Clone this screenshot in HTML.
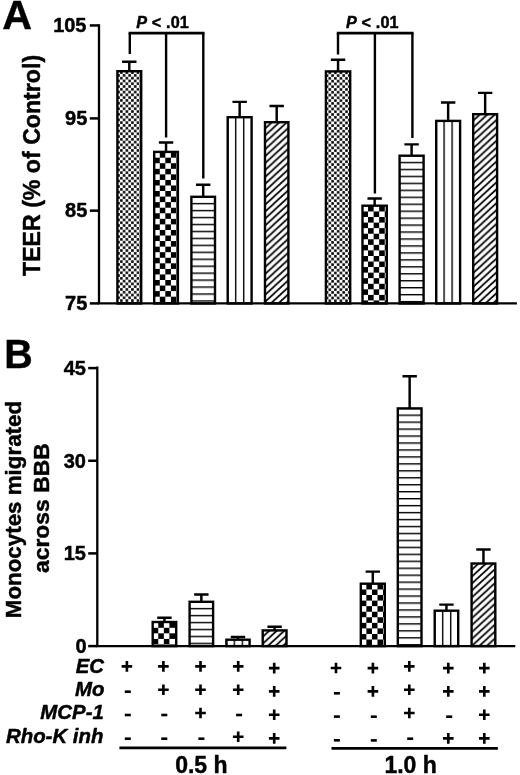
<!DOCTYPE html>
<html><head><meta charset="utf-8"><title>Figure</title>
<style>html,body{margin:0;padding:0;background:#fff;}body{width:520px;height:775px;overflow:hidden;position:relative;}svg{display:block;position:absolute;left:0;top:0;filter:grayscale(1);}text{font-family:"Liberation Sans",sans-serif;font-weight:bold;fill:#000;stroke:#000;stroke-width:0.45px;stroke-linejoin:round;}</style>
</head><body>
<svg width="520" height="775" viewBox="0 0 520 775">
<rect x="0" y="0" width="520" height="775" fill="#fff"/>
<defs>
<pattern id="p1" patternUnits="userSpaceOnUse" x="122.70" y="74.00" width="5.56" height="5.56"><rect width="5.56" height="5.56" fill="#fff"/><rect x="0.125" y="0.125" width="2.53" height="2.53" fill="#000"/><rect x="2.905" y="2.905" width="2.53" height="2.53" fill="#000"/></pattern>
<pattern id="p2" patternUnits="userSpaceOnUse" x="159.77" y="152.12" width="11.12" height="11.12"><rect width="11.12" height="11.12" fill="#fff"/><rect x="0.000" y="0.000" width="5.56" height="5.56" fill="#000"/><rect x="5.560" y="5.560" width="5.56" height="5.56" fill="#000"/></pattern>
<pattern id="p3" patternUnits="userSpaceOnUse" x="0" y="202.9" width="10" height="6.957"><rect width="10" height="6.957" fill="#fff"/><rect x="0" y="0" width="10" height="1.4" fill="#000"/></pattern>
<pattern id="p4" patternUnits="userSpaceOnUse" x="226.88" y="0" width="8.02" height="10"><rect width="8.02" height="10" fill="#fff"/><rect x="0" y="0" width="1.4" height="10" fill="#000"/></pattern>
<pattern id="p5" patternUnits="userSpaceOnUse" x="266.00" y="127.72" width="7.5" height="6.93"><rect width="7.5" height="6.93" fill="#fff"/><path d="M-7.5 6.93 L7.5 -6.93 M-7.5 13.86 L15.0 -6.93 M-7.5 20.79 L22.5 -6.93" stroke="#000" stroke-width="1.7" fill="none"/></pattern>
<pattern id="p6" patternUnits="userSpaceOnUse" x="331.20" y="74.20" width="5.56" height="5.56"><rect width="5.56" height="5.56" fill="#fff"/><rect x="0.125" y="0.125" width="2.53" height="2.53" fill="#000"/><rect x="2.905" y="2.905" width="2.53" height="2.53" fill="#000"/></pattern>
<pattern id="p7" patternUnits="userSpaceOnUse" x="368.07" y="205.92" width="11.12" height="11.12"><rect width="11.12" height="11.12" fill="#fff"/><rect x="0.000" y="0.000" width="5.56" height="5.56" fill="#000"/><rect x="5.560" y="5.560" width="5.56" height="5.56" fill="#000"/></pattern>
<pattern id="p8" patternUnits="userSpaceOnUse" x="0" y="161.8" width="10" height="6.957"><rect width="10" height="6.957" fill="#fff"/><rect x="0" y="0" width="10" height="1.4" fill="#000"/></pattern>
<pattern id="p9" patternUnits="userSpaceOnUse" x="435.38" y="0" width="8.02" height="10"><rect width="8.02" height="10" fill="#fff"/><rect x="0" y="0" width="1.4" height="10" fill="#000"/></pattern>
<pattern id="p10" patternUnits="userSpaceOnUse" x="474.20" y="119.72" width="7.5" height="6.93"><rect width="7.5" height="6.93" fill="#fff"/><path d="M-7.5 6.93 L7.5 -6.93 M-7.5 13.86 L15.0 -6.93 M-7.5 20.79 L22.5 -6.93" stroke="#000" stroke-width="1.7" fill="none"/></pattern>
<pattern id="p11" patternUnits="userSpaceOnUse" x="158.27" y="622.22" width="11.12" height="11.12"><rect width="11.12" height="11.12" fill="#fff"/><rect x="0.000" y="0.000" width="5.56" height="5.56" fill="#000"/><rect x="5.560" y="5.560" width="5.56" height="5.56" fill="#000"/></pattern>
<pattern id="p12" patternUnits="userSpaceOnUse" x="0" y="607.9" width="10" height="6.957"><rect width="10" height="6.957" fill="#fff"/><rect x="0" y="0" width="10" height="1.4" fill="#000"/></pattern>
<pattern id="p13" patternUnits="userSpaceOnUse" x="225.57999999999998" y="0" width="8.02" height="10"><rect width="8.02" height="10" fill="#fff"/><rect x="0" y="0" width="1.4" height="10" fill="#000"/></pattern>
<pattern id="p14" patternUnits="userSpaceOnUse" x="263.70" y="635.92" width="7.5" height="6.93"><rect width="7.5" height="6.93" fill="#fff"/><path d="M-7.5 6.93 L7.5 -6.93 M-7.5 13.86 L15.0 -6.93 M-7.5 20.79 L22.5 -6.93" stroke="#000" stroke-width="1.7" fill="none"/></pattern>
<pattern id="p15" patternUnits="userSpaceOnUse" x="366.37" y="583.92" width="11.12" height="11.12"><rect width="11.12" height="11.12" fill="#fff"/><rect x="0.000" y="0.000" width="5.56" height="5.56" fill="#000"/><rect x="5.560" y="5.560" width="5.56" height="5.56" fill="#000"/></pattern>
<pattern id="p16" patternUnits="userSpaceOnUse" x="0" y="414.5" width="10" height="6.957"><rect width="10" height="6.957" fill="#fff"/><rect x="0" y="0" width="10" height="1.4" fill="#000"/></pattern>
<pattern id="p17" patternUnits="userSpaceOnUse" x="433.88" y="0" width="8.02" height="10"><rect width="8.02" height="10" fill="#fff"/><rect x="0" y="0" width="1.4" height="10" fill="#000"/></pattern>
<pattern id="p18" patternUnits="userSpaceOnUse" x="472.60" y="569.02" width="7.5" height="6.93"><rect width="7.5" height="6.93" fill="#fff"/><path d="M-7.5 6.93 L7.5 -6.93 M-7.5 13.86 L15.0 -6.93 M-7.5 20.79 L22.5 -6.93" stroke="#000" stroke-width="1.7" fill="none"/></pattern>
</defs>
<text x="2.3" y="29.4" font-size="41.2" stroke-width="0.1">A</text>
<text transform="translate(4.3 367.9) scale(0.962 1)" font-size="41" stroke-width="0.1">B</text>
<rect x="117.40" y="71.20" width="23.80" height="232.25" fill="url(#p1)" stroke="#000" stroke-width="2.4"/>
<path d="M122.10 61.65 H136.50 M129.30 61.65 V71.00" stroke="#000" stroke-width="2.45" fill="none"/>
<rect x="154.20" y="151.90" width="23.70" height="151.55" fill="url(#p2)" stroke="#000" stroke-width="2.4"/>
<path d="M158.85 142.55 H173.25 M166.05 142.55 V151.70" stroke="#000" stroke-width="2.45" fill="none"/>
<rect x="191.40" y="196.80" width="23.60" height="106.65" fill="url(#p3)" stroke="#000" stroke-width="2.4"/>
<path d="M196.00 184.75 H210.40 M203.20 184.75 V196.60" stroke="#000" stroke-width="2.45" fill="none"/>
<rect x="227.70" y="117.20" width="23.90" height="186.25" fill="url(#p4)" stroke="#000" stroke-width="2.4"/>
<path d="M232.45 101.85 H246.85 M239.65 101.85 V117.00" stroke="#000" stroke-width="2.45" fill="none"/>
<rect x="265.00" y="122.20" width="23.40" height="181.25" fill="url(#p5)" stroke="#000" stroke-width="2.4"/>
<path d="M269.50 106.05 H283.90 M276.70 106.05 V122.00" stroke="#000" stroke-width="2.45" fill="none"/>
<rect x="325.90" y="71.40" width="24.30" height="232.05" fill="url(#p6)" stroke="#000" stroke-width="2.4"/>
<path d="M330.85 59.65 H345.25 M338.05 59.65 V71.20" stroke="#000" stroke-width="2.45" fill="none"/>
<rect x="362.50" y="205.70" width="24.30" height="97.75" fill="url(#p7)" stroke="#000" stroke-width="2.4"/>
<path d="M367.45 198.45 H381.85 M374.65 198.45 V205.50" stroke="#000" stroke-width="2.45" fill="none"/>
<rect x="399.60" y="155.70" width="24.00" height="147.75" fill="url(#p8)" stroke="#000" stroke-width="2.4"/>
<path d="M404.40 144.35 H418.80 M411.60 144.35 V155.50" stroke="#000" stroke-width="2.45" fill="none"/>
<rect x="436.20" y="120.90" width="23.90" height="182.55" fill="url(#p9)" stroke="#000" stroke-width="2.4"/>
<path d="M440.95 102.45 H455.35 M448.15 102.45 V120.70" stroke="#000" stroke-width="2.45" fill="none"/>
<rect x="473.20" y="114.20" width="23.90" height="189.25" fill="url(#p10)" stroke="#000" stroke-width="2.4"/>
<path d="M477.95 92.85 H492.35 M485.15 92.85 V114.00" stroke="#000" stroke-width="2.45" fill="none"/>
<path d="M99.0 24.2 V303.45 M97.85 303.45 H516.9" stroke="#000" stroke-width="2.3" fill="none"/>
<path d="M89.8 25.45 H99.0" stroke="#000" stroke-width="2.5"/>
<text x="86.5" y="31.9" font-size="20" text-anchor="end">105</text>
<path d="M89.8 118.4 H99.0" stroke="#000" stroke-width="2.5"/>
<text x="87.3" y="124.6" font-size="20" text-anchor="end">95</text>
<path d="M89.8 210.65 H99.0" stroke="#000" stroke-width="2.5"/>
<text x="87.3" y="216.8" font-size="20" text-anchor="end">85</text>
<path d="M89.8 303.4 H99.0" stroke="#000" stroke-width="2.5"/>
<text x="87.3" y="309.6" font-size="20" text-anchor="end">75</text>
<path d="M129.8 54 V33 M203.3 33 V178.5 M166.1 33 V137.5" stroke="#000" stroke-width="2.4" fill="none"/>
<path d="M128.6 33.2 H204.5" stroke="#000" stroke-width="2.8" fill="none"/>
<path d="M338.0 54.5 V33 M412.4 33 V138 M374.9 33 V193.5" stroke="#000" stroke-width="2.4" fill="none"/>
<path d="M336.8 33.2 H413.6" stroke="#000" stroke-width="2.8" fill="none"/>
<text x="136.2" y="27.7" font-size="16.2" letter-spacing="0.15"><tspan font-style="italic">P</tspan> &lt; .01</text>
<text x="345.9" y="28.0" font-size="16.2" letter-spacing="0.15"><tspan font-style="italic">P</tspan> &lt; .01</text>
<text transform="translate(40.0 276.0) rotate(-90)" font-size="23.15">TEER (% of Control)</text>
<rect x="152.70" y="622.00" width="23.50" height="24.10" fill="url(#p11)" stroke="#000" stroke-width="2.4"/>
<path d="M157.25 617.70 H171.65 M164.45 617.70 V621.80" stroke="#000" stroke-width="2.45" fill="none"/>
<rect x="189.60" y="601.80" width="23.50" height="44.30" fill="url(#p12)" stroke="#000" stroke-width="2.4"/>
<path d="M194.15 594.50 H208.55 M201.35 594.50 V601.60" stroke="#000" stroke-width="2.45" fill="none"/>
<rect x="226.40" y="639.70" width="23.20" height="6.40" fill="url(#p13)" stroke="#000" stroke-width="2.4"/>
<path d="M230.80 637.00 H245.20 M238.00 637.00 V639.50" stroke="#000" stroke-width="2.45" fill="none"/>
<rect x="262.70" y="630.40" width="23.80" height="15.70" fill="url(#p14)" stroke="#000" stroke-width="2.4"/>
<path d="M267.40 626.80 H281.80 M274.60 626.80 V630.20" stroke="#000" stroke-width="2.45" fill="none"/>
<rect x="360.80" y="583.70" width="24.00" height="62.40" fill="url(#p15)" stroke="#000" stroke-width="2.4"/>
<path d="M365.60 571.60 H380.00 M372.80 571.60 V583.50" stroke="#000" stroke-width="2.45" fill="none"/>
<rect x="397.80" y="408.40" width="23.70" height="237.70" fill="url(#p16)" stroke="#000" stroke-width="2.4"/>
<path d="M402.45 376.30 H416.85 M409.65 376.30 V408.20" stroke="#000" stroke-width="2.45" fill="none"/>
<rect x="434.70" y="610.70" width="23.50" height="35.40" fill="url(#p17)" stroke="#000" stroke-width="2.4"/>
<path d="M439.25 604.60 H453.65 M446.45 604.60 V610.50" stroke="#000" stroke-width="2.45" fill="none"/>
<rect x="471.60" y="563.50" width="23.70" height="82.60" fill="url(#p18)" stroke="#000" stroke-width="2.4"/>
<path d="M476.25 549.50 H490.65 M483.45 549.50 V563.30" stroke="#000" stroke-width="2.45" fill="none"/>
<path d="M97.3 366.6 V646.1 M96.15 646.1 H515.3" stroke="#000" stroke-width="2.3" fill="none"/>
<path d="M88.2 368.1 H97.3" stroke="#000" stroke-width="2.5"/>
<text x="86.0" y="375.0" font-size="20" text-anchor="end">45</text>
<path d="M88.2 460.75 H97.3" stroke="#000" stroke-width="2.5"/>
<text x="86.0" y="467.6" font-size="20" text-anchor="end">30</text>
<path d="M88.2 553.4 H97.3" stroke="#000" stroke-width="2.5"/>
<text x="86.0" y="560.3" font-size="20" text-anchor="end">15</text>
<path d="M88.2 646.1 H97.3" stroke="#000" stroke-width="2.5"/>
<text x="86.5" y="653.0" font-size="20" text-anchor="end">0</text>
<text transform="translate(20.5 618.2) rotate(-90)" font-size="22.35">Monocytes migrated</text>
<text transform="translate(48.5 573.0) rotate(-90)" font-size="22.9">across BBB</text>
<text x="104.1" y="672.8" font-size="20.4" font-style="italic" text-anchor="end">EC</text>
<text x="104.5" y="695.5" font-size="20.4" font-style="italic" text-anchor="end">Mo</text>
<text x="103.8" y="719.2" font-size="20.4" font-style="italic" text-anchor="end">MCP-1</text>
<text x="103.4" y="743.0" font-size="20.4" font-style="italic" text-anchor="end">Rho-K inh</text>
<path d="M121.60 665.08h10.6v2.64h-10.6z M125.58 661.10h2.64v10.6h-2.64z" fill="#000"/>
<rect x="124.80" y="690.40" width="6.0" height="2.6" fill="#000"/>
<rect x="124.80" y="713.70" width="6.0" height="2.6" fill="#000"/>
<rect x="124.80" y="737.40" width="6.0" height="2.6" fill="#000"/>
<path d="M158.10 665.08h10.6v2.64h-10.6z M162.08 661.10h2.64v10.6h-2.64z" fill="#000"/>
<path d="M158.10 688.38h10.6v2.64h-10.6z M162.08 684.40h2.64v10.6h-2.64z" fill="#000"/>
<rect x="161.30" y="713.70" width="6.0" height="2.6" fill="#000"/>
<rect x="161.30" y="737.40" width="6.0" height="2.6" fill="#000"/>
<path d="M195.20 665.08h10.6v2.64h-10.6z M199.18 661.10h2.64v10.6h-2.64z" fill="#000"/>
<path d="M195.20 688.38h10.6v2.64h-10.6z M199.18 684.40h2.64v10.6h-2.64z" fill="#000"/>
<path d="M195.20 711.68h10.6v2.64h-10.6z M199.18 707.70h2.64v10.6h-2.64z" fill="#000"/>
<rect x="198.40" y="737.40" width="6.0" height="2.6" fill="#000"/>
<path d="M232.90 665.08h10.6v2.64h-10.6z M236.88 661.10h2.64v10.6h-2.64z" fill="#000"/>
<path d="M232.90 688.38h10.6v2.64h-10.6z M236.88 684.40h2.64v10.6h-2.64z" fill="#000"/>
<rect x="236.10" y="713.70" width="6.0" height="2.6" fill="#000"/>
<path d="M232.90 735.38h10.6v2.64h-10.6z M236.88 731.40h2.64v10.6h-2.64z" fill="#000"/>
<path d="M268.90 666.78h10.6v2.64h-10.6z M272.88 662.80h2.64v10.6h-2.64z" fill="#000"/>
<path d="M268.90 690.08h10.6v2.64h-10.6z M272.88 686.10h2.64v10.6h-2.64z" fill="#000"/>
<path d="M268.90 713.38h10.6v2.64h-10.6z M272.88 709.40h2.64v10.6h-2.64z" fill="#000"/>
<path d="M268.90 737.08h10.6v2.64h-10.6z M272.88 733.10h2.64v10.6h-2.64z" fill="#000"/>
<path d="M330.70 666.68h10.6v2.64h-10.6z M334.68 662.70h2.64v10.6h-2.64z" fill="#000"/>
<rect x="333.90" y="692.00" width="6.0" height="2.6" fill="#000"/>
<rect x="333.90" y="715.30" width="6.0" height="2.6" fill="#000"/>
<rect x="333.90" y="739.00" width="6.0" height="2.6" fill="#000"/>
<path d="M367.60 666.78h10.6v2.64h-10.6z M371.58 662.80h2.64v10.6h-2.64z" fill="#000"/>
<path d="M367.60 690.08h10.6v2.64h-10.6z M371.58 686.10h2.64v10.6h-2.64z" fill="#000"/>
<rect x="370.80" y="715.40" width="6.0" height="2.6" fill="#000"/>
<rect x="370.80" y="739.10" width="6.0" height="2.6" fill="#000"/>
<path d="M404.00 665.08h10.6v2.64h-10.6z M407.98 661.10h2.64v10.6h-2.64z" fill="#000"/>
<path d="M404.00 688.38h10.6v2.64h-10.6z M407.98 684.40h2.64v10.6h-2.64z" fill="#000"/>
<path d="M404.00 711.68h10.6v2.64h-10.6z M407.98 707.70h2.64v10.6h-2.64z" fill="#000"/>
<rect x="407.20" y="737.40" width="6.0" height="2.6" fill="#000"/>
<path d="M443.00 666.78h10.6v2.64h-10.6z M446.98 662.80h2.64v10.6h-2.64z" fill="#000"/>
<path d="M443.00 690.08h10.6v2.64h-10.6z M446.98 686.10h2.64v10.6h-2.64z" fill="#000"/>
<rect x="446.20" y="715.40" width="6.0" height="2.6" fill="#000"/>
<path d="M443.00 737.08h10.6v2.64h-10.6z M446.98 733.10h2.64v10.6h-2.64z" fill="#000"/>
<path d="M479.00 666.78h10.6v2.64h-10.6z M482.98 662.80h2.64v10.6h-2.64z" fill="#000"/>
<path d="M479.00 690.08h10.6v2.64h-10.6z M482.98 686.10h2.64v10.6h-2.64z" fill="#000"/>
<path d="M479.00 713.38h10.6v2.64h-10.6z M482.98 709.40h2.64v10.6h-2.64z" fill="#000"/>
<path d="M479.00 737.08h10.6v2.64h-10.6z M482.98 733.10h2.64v10.6h-2.64z" fill="#000"/>
<path d="M119.4 747.8 H286.4 M331.5 748.3 H497.9" stroke="#000" stroke-width="2.7"/>
<text x="201.4" y="772.6" font-size="23" text-anchor="middle">0.5 h</text>
<text x="410.6" y="772.6" font-size="23" text-anchor="middle">1.0 h</text>
</svg></body></html>
